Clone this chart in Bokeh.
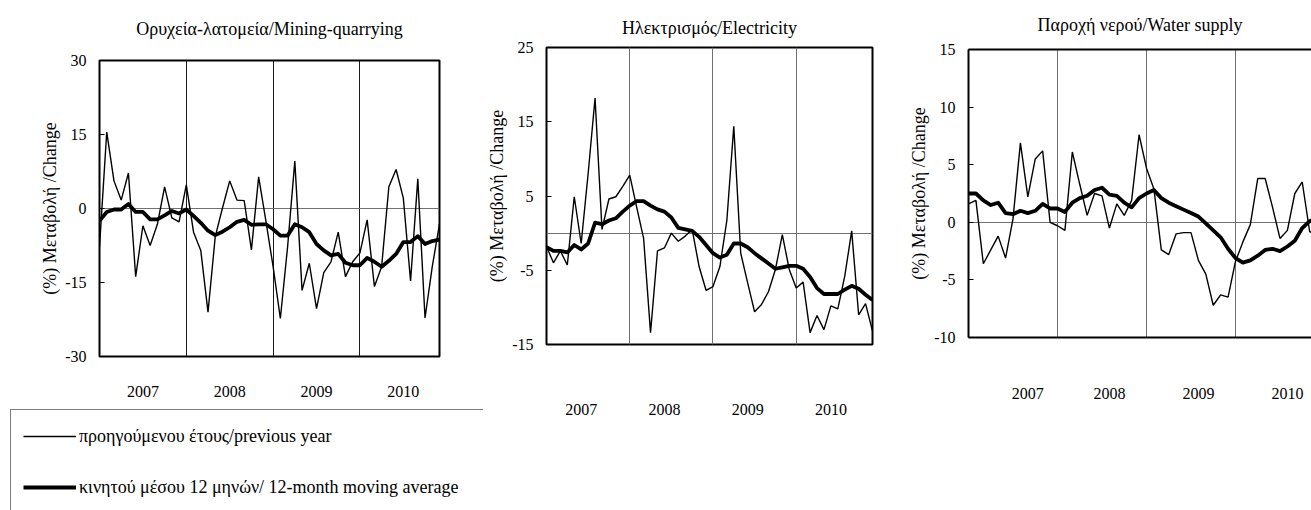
from bokeh.plotting import figure
from bokeh.layouts import row, column
from bokeh.models import FixedTicker, Legend, LegendItem, LinearAxis, Range1d, Title
from bokeh.embed import file_html
from bokeh.resources import INLINE

# Monthly observations, Jan 2007 .. Dec 2010 (index 0..47)
months = list(range(48))
years = ["2007", "2008", "2009", "2010"]

mining_yoy = [-7.8, 15.5, 5.6, 1.7, 7.2, -13.8, -3.5, -7.5, -3.2, 4.4, -1.9, -2.7,
              4.8, -4.8, -8.5, -21.0, -5.7, 0.1, 5.6, 1.7, 1.6, -8.4, 6.4, -2.5,
              -11.8, -22.3, -7.8, 9.6, -16.6, -11.1, -20.3, -13.0, -10.8, -4.8, -13.8, -10.8,
              -9.0, -2.3, -15.8, -11.8, 4.4, 7.9, 2.1, -14.7, 6.0, -22.2, -11.8, -3.1]
mining_ma = [-2.5, -0.7, -0.2, -0.2, 0.9, -0.7, -0.7, -2.2, -2.2, -1.4, -0.5, -1.0,
             -0.2, -1.5, -2.9, -4.5, -5.4, -4.7, -3.8, -2.7, -2.3, -3.3, -3.2, -3.2,
             -4.2, -5.5, -5.5, -3.2, -3.8, -4.8, -7.2, -8.5, -9.5, -9.2, -11.0, -11.5,
             -11.5, -10.0, -10.8, -11.8, -10.6, -9.2, -6.8, -6.8, -5.6, -7.2, -6.6, -6.3]

elec_yoy = [-1.8, -4.0, -2.4, -4.3, 4.9, -1.4, 8.0, 18.2, 0.5, 4.6, 4.9, 6.3,
            7.8, 3.5, -0.7, -13.4, -2.4, -2.0, 0.0, -1.1, -0.4, 0.5, -4.5, -7.7,
            -7.2, -4.5, 1.7, 14.4, -2.7, -6.7, -10.6, -9.6, -7.9, -4.9, -0.2, -4.9,
            -7.4, -6.6, -13.4, -11.1, -13.0, -9.8, -10.2, -5.8, 0.3, -11.0, -9.5, -13.2]
elec_ma = [-1.9, -2.4, -2.4, -2.6, -1.6, -2.2, -1.4, 1.4, 1.2, 1.7, 2.0, 2.9,
           3.7, 4.3, 4.3, 3.7, 3.2, 2.9, 2.1, 0.7, 0.5, 0.3, -0.5, -1.6,
           -2.7, -3.3, -2.9, -1.4, -1.4, -1.9, -2.7, -3.4, -4.1, -4.8, -4.6, -4.4,
           -4.4, -4.8, -5.9, -7.4, -8.2, -8.2, -8.2, -7.6, -7.1, -7.5, -8.3, -9.0]

water_yoy = [1.6, 1.9, -3.6, -2.4, -1.2, -3.1, 0.3, 6.9, 2.2, 5.5, 6.2, 0.0,
             -0.3, -0.7, 6.1, 3.3, 0.6, 2.5, 2.3, -0.5, 1.6, 0.6, 1.9, 7.6,
             4.7, 2.9, -2.4, -2.8, -1.0, -0.9, -0.9, -3.3, -4.5, -7.2, -6.3, -6.5,
             -3.4, -1.7, -0.2, 3.8, 3.8, 1.3, -1.4, -0.7, 2.5, 3.5, -0.8, -1.1]
water_ma = [2.5, 2.5, 1.9, 1.5, 1.7, 0.8, 0.7, 1.0, 0.8, 1.0, 1.6, 1.2,
            1.2, 0.9, 1.7, 2.1, 2.3, 2.8, 3.0, 2.4, 2.3, 1.7, 1.3, 2.1,
            2.5, 2.8, 2.1, 1.7, 1.4, 1.1, 0.8, 0.5, -0.1, -0.7, -1.3, -2.3,
            -3.1, -3.5, -3.3, -2.9, -2.4, -2.3, -2.5, -2.1, -1.6, -0.5, 0.1, 0.4]

label_yoy = "προηγούμενου έτους/previous year"
label_ma = "κινητού μέσου 12 μηνών/ 12-month moving average"
ylabel = "(%) Μεταβολή /Change"

FONT = "Liberation Serif"
THIN = 1.4
THICK = 3.8


def make_title(text, standoff):
    return Title(text=text, align="center", text_font=FONT, text_font_style="normal",
                 text_font_size="18px", text_color="black", standoff=standoff)


def make_panel(title, yoy, ma, yr, yticks, year_pos, width, height, mb_left, mb_right,
               mb_top, frame_h, x_end, xgrid_color, year_standoff, clip_right=False,
               title_standoff=20, title_as_axis_label=False):
    p = figure(width=width, height=height, output_backend="svg", toolbar_location=None,
               x_range=Range1d(0, x_end), y_range=Range1d(*yr),
               min_border_left=mb_left, min_border_right=mb_right,
               min_border_top=mb_top, min_border_bottom=height - mb_top - frame_h,
               background_fill_color="white", border_fill_color="white",
               frame_align=False)

    if clip_right:
        p.outline_line_color = None
    else:
        p.outline_line_color = "black"
        p.outline_line_width = 2

    # y axis (hyphen-minus labels as in the source)
    ya = p.yaxis[0]
    ya.ticker = FixedTicker(ticks=yticks)
    ya.major_label_overrides = {t: str(t) for t in yticks}
    ya.minor_tick_line_color = None
    ya.major_tick_in = 5
    ya.major_tick_out = 0
    ya.major_tick_line_color = "black"
    ya.major_label_text_font = FONT
    ya.major_label_text_font_size = "16px"
    ya.major_label_text_color = "black"
    ya.major_label_standoff = 13
    ya.axis_label = ylabel
    ya.axis_label_text_font = FONT
    ya.axis_label_text_font_style = "normal"
    ya.axis_label_text_font_size = "18px"
    ya.axis_label_text_color = "black"
    ya.axis_label_standoff = 2
    if clip_right:
        ya.axis_line_color = "black"
        ya.axis_line_width = 2
    else:
        ya.axis_line_color = None

    # x axis: year labels only
    xa = p.xaxis[0]
    xa.ticker = FixedTicker(ticks=year_pos)
    xa.major_label_overrides = {pos: y for pos, y in zip(year_pos, years)}
    xa.minor_tick_line_color = None
    xa.major_tick_line_color = None
    xa.major_label_text_font = FONT
    xa.major_label_text_font_size = "16px"
    xa.major_label_text_color = "black"
    xa.major_label_standoff = year_standoff

    if clip_right:
        xa.axis_line_color = "black"
        xa.axis_line_width = 2
        top = LinearAxis(major_tick_line_color=None, minor_tick_line_color=None,
                         major_label_text_color=None, axis_line_color="black",
                         axis_line_width=2)
        p.add_layout(top, "above")
        p.title = make_title(title, title_standoff)
    else:
        xa.axis_line_color = None
        if title_as_axis_label:
            # title drawn as the label of a tick-less top axis, so its distance
            # from the frame can be set freely
            p.title = None
            top = LinearAxis(ticker=FixedTicker(ticks=[]), axis_line_color=None,
                             major_tick_line_color=None, minor_tick_line_color=None,
                             major_tick_out=0, minor_tick_out=0,
                             major_tick_in=0, minor_tick_in=0,
                             major_label_standoff=0,
                             axis_label=title, axis_label_standoff=title_standoff,
                             axis_label_text_font=FONT,
                             axis_label_text_font_style="normal",
                             axis_label_text_font_size="18px",
                             axis_label_text_color="black")
            p.add_layout(top, "above")
        else:
            p.title = make_title(title, title_standoff)

    # grids: year separators and zero line
    p.xgrid.ticker = FixedTicker(ticks=[12, 24, 36])
    p.xgrid.grid_line_color = xgrid_color
    p.xgrid.grid_line_width = 1
    p.ygrid.ticker = FixedTicker(ticks=[0])
    p.ygrid.grid_line_color = "#707070"
    p.ygrid.grid_line_width = 1

    p.line(months, yoy, line_color="black", line_width=THIN)
    p.line(months, ma, line_color="black", line_width=THICK, line_join="round")
    return p


p1 = make_panel("Ορυχεία-λατομεία/Mining-quarrying", mining_yoy, mining_ma,
                (-30, 30), [-30, -15, 0, 15, 30], [6, 18, 30, 42],
                width=483, height=408, mb_left=99, mb_right=44, mb_top=60, frame_h=296,
                x_end=47, xgrid_color="#1a1a1a", year_standoff=23,
                title_standoff=22, title_as_axis_label=True)
p2 = make_panel("Ηλεκτρισμός/Electricity", elec_yoy, elec_ma,
                (-15, 25), [-15, -5, 5, 15, 25], [5, 17, 29, 41],
                width=417, height=510, mb_left=63, mb_right=28, mb_top=47, frame_h=297,
                x_end=47, xgrid_color="#707070", year_standoff=53,
                title_standoff=19)
p3 = make_panel("Παροχή νερού/Water supply", water_yoy, water_ma,
                (-10, 15), [-10, -5, 0, 5, 10, 15], [8, 19, 31, 43],
                width=411, height=510, mb_left=68, mb_right=0, mb_top=49, frame_h=288,
                x_end=46.25, xgrid_color="#707070", year_standoff=44,
                clip_right=True, title_standoff=18)

# Legend box under the first panel
lf = figure(width=483, height=102, output_backend="svg", toolbar_location=None,
            x_range=Range1d(0, 47), y_range=Range1d(1000, 1001),
            x_axis_type=None, y_axis_type=None,
            min_border_left=0, min_border_right=0, min_border_top=0, min_border_bottom=0,
            background_fill_color="white", border_fill_color="white",
            frame_align=False)
lf.outline_line_color = None
lf.grid.visible = False
r_thin = lf.line(months, mining_yoy, line_color="black", line_width=THIN)
r_thick = lf.line(months, mining_ma, line_color="black", line_width=THICK)

legend = Legend(items=[LegendItem(label=label_yoy, renderers=[r_thin]),
                       LegendItem(label=label_ma, renderers=[r_thick])],
                location=(10, -4), orientation="vertical",
                padding=12, spacing=23, glyph_width=53, glyph_height=28,
                label_height=28, label_width=440, label_standoff=3,
                label_text_font=FONT, label_text_font_size="18px",
                label_text_color="black",
                border_line_color="black", border_line_width=1,
                background_fill_color="white", background_fill_alpha=1.0,
                margin=0)
lf.add_layout(legend, "center")

layout = row(column(p1, lf), p2, p3)
open("out.html", "w").write(file_html(layout, INLINE))
